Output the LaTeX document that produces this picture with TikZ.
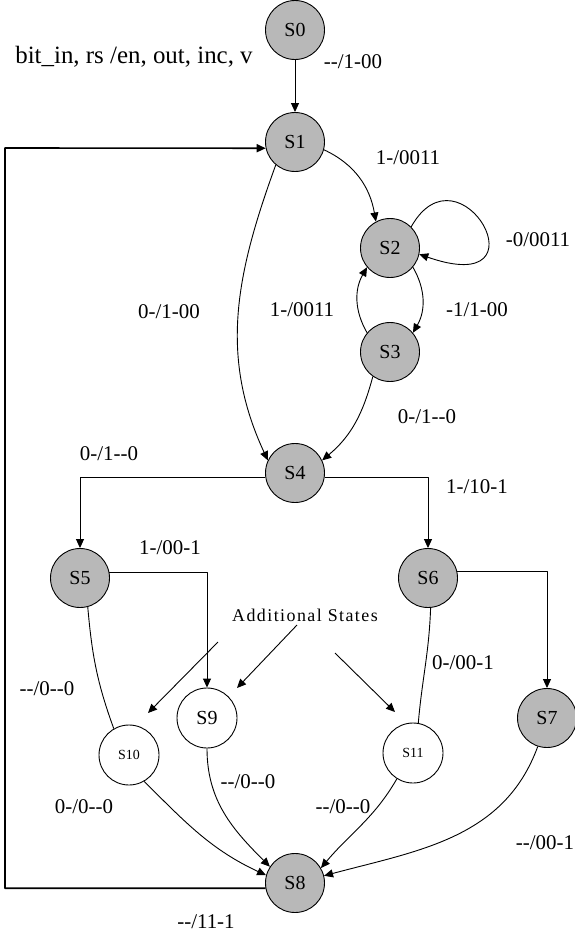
\documentclass[tikz,border=0pt]{standalone}
\usepackage{fontspec}
\setmainfont{Liberation Serif}[Ligatures=TeXOff]
\usetikzlibrary{arrows.meta}
\begin{document}
\begin{tikzpicture}[x=1bp,y=1bp,>={Triangle[length=9bp,width=8bp]},line join=round,
  st/.style={circle,draw,line width=0.9bp,fill=black!28,minimum size=59bp,inner sep=0pt,font=\fontsize{20}{22}\selectfont},
  sx/.style={circle,draw,line width=0.9bp,fill=white,minimum size=60bp,inner sep=0pt,font=\fontsize{14}{16}\selectfont},
  lbl/.style={font=\fontsize{21}{24}\selectfont,inner sep=0pt},
  tr/.style={->,line width=0.9bp}]
\useasboundingbox (0,0) rectangle (575,-934);
% states
\node[st] (S0) at (295,-30) {S0};
\node[st] (S1) at (295,-142) {S1};
\node[st] (S2) at (390,-248) {S2};
\node[st] (S3) at (390,-352) {S3};
\node[st] (S4) at (295,-473) {S4};
\node[st] (S5) at (80,-578) {S5};
\node[st] (S6) at (428,-578) {S6};
\node[st] (S7) at (547,-718) {S7};
\node[st] (S8) at (295,-883) {S8};
\node[sx] (S9) at (207,-718) {\fontsize{20}{22}\selectfont S9};
\node[sx] (S10) at (129,-755) {S10};
\node[sx] (S11) at (413,-753) {S11};
\coordinate (lt) at (5,-148);
% transitions
\draw[tr] (S0) -- (S1);
\draw[tr] (S1.-15) to[out=-25,in=100] (S2.118);
\draw[tr] (S2.45) .. controls (460,-140) and (550,-300) .. (S2.-12);
\draw[tr] (S2.-40) to[out=-60,in=60] (S3.40);
\draw[tr] (S3.140) to[out=120,in=-120] (S2.-140);
\draw[tr] (S1.-130) to[out=-110,in=115] (S4.155);
\draw[tr] (S3.-125) to[out=-105,in=40] (S4.25);
\draw[tr] (S4.188) -| (S5.north);
\draw[tr] (S4.-8) -| (S6.north);
\draw[tr] (S5.10) -| (S9.north);
\draw[tr] (S6.12) -| (S7.north);
\draw[line width=0.9bp] (S5.-75) to[out=-85,in=110] (S10.120);
\draw[tr] (S10.-60) to[out=-45,in=155] (S8.165);
\draw[tr] (S9.south) to[out=-90,in=135] (S8.147);
\draw[line width=0.9bp] (S6.-85) to[out=-92,in=85] (S11.80);
\draw[tr] (S11.-122) to[out=-120,in=50] (S8.30);
\draw[tr] (S7.-108) to[out=-110,in=15] (S8.14);
\draw[tr,line width=1.6bp] (S8.190) -| (lt) -- (S1.192);
% labels
\node[lbl,font=\fontsize{25}{28}\selectfont] (hdr) at (134,-57) {bit\_in, rs /en, out, inc, v};
\node[lbl] (l01) at (353,-62) {--/1-00};
\node[lbl] (l12) at (408,-158) {1-/0011};
\node[lbl] (l22) at (538,-240) {-0/0011};
\node[lbl] (l23) at (477,-310) {-1/1-00};
\node[lbl] (l32) at (302,-310) {1-/0011};
\node[lbl] (l14) at (169,-312) {0-/1-00};
\node[lbl] (l34) at (427,-417) {0-/1--0};
\node[lbl] (l45) at (109,-454) {0-/1--0};
\node[lbl] (l46) at (477,-487) {1-/10-1};
\node[lbl] (l59) at (170,-548) {1-/00-1};
\node[lbl] (l510) at (47,-689) {--/0--0};
\node[lbl] (l108) at (84,-807) {0-/0--0};
\node[lbl] (l98) at (248,-782) {--/0--0};
\node[lbl] (l611) at (463,-663) {0-/00-1};
\node[lbl] (l118) at (343,-807) {--/0--0};
\node[lbl] (l78) at (545,-843) {--/00-1};
\node[lbl] (l81) at (206,-922) {--/11-1};
% additional states
\node[inner sep=0pt,font=\fontsize{18}{20}\selectfont\addfontfeature{LetterSpace=8}] (add) at (305,-615) {Additional States};
\coordinate (a1) at (218,-642); \coordinate (a1e) at (148,-713);
\coordinate (a2) at (297,-625); \coordinate (a2e) at (237,-688);
\coordinate (a3) at (335,-653); \coordinate (a3e) at (395,-712);
\draw[tr] (a1) -- (a1e);
\draw[tr] (a2) -- (a2e);
\draw[tr] (a3) -- (a3e);
\end{tikzpicture}
\end{document}
